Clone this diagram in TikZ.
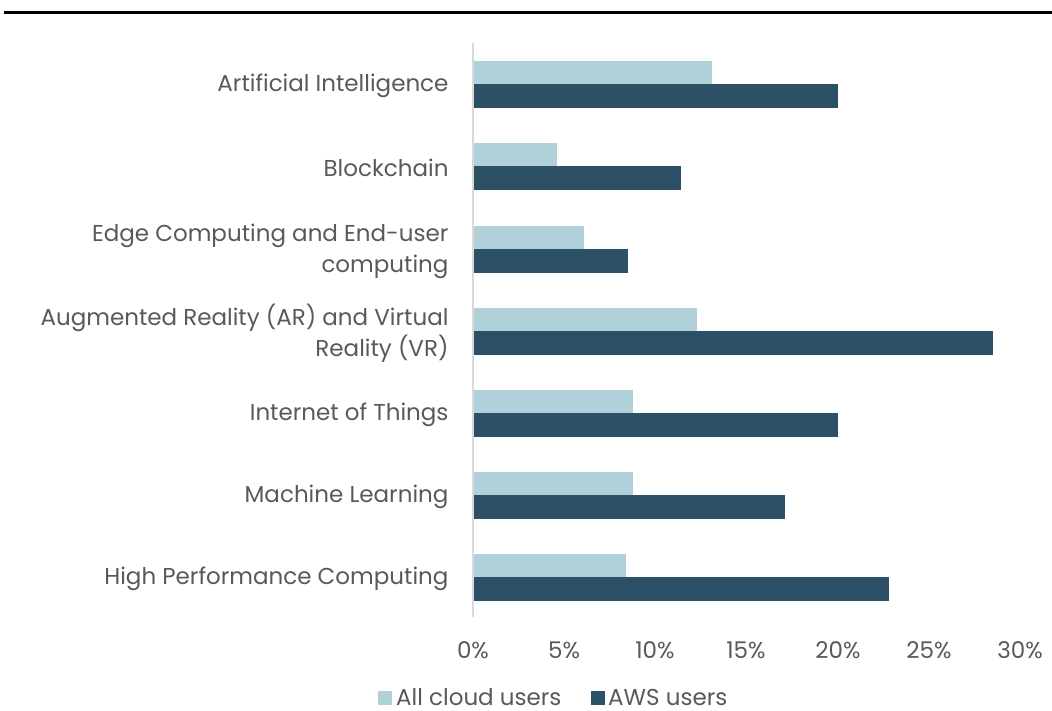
\documentclass[tikz,border=0pt]{standalone}
\usepackage{fontspec}
\setmainfont{Poppins}
\usetikzlibrary{positioning}

\definecolor{cloudblue}{HTML}{B0D0DA}
\definecolor{awsblue}{HTML}{2C5066}
\definecolor{textgray}{HTML}{595959}
\definecolor{axisgray}{HTML}{D9D9D9}

\begin{document}
\begin{tikzpicture}[x=1pt, y=-1pt,
    font=\fontsize{23}{31}\selectfont, text=textgray,
    cat/.style={anchor=east, align=right},
    tick/.style={anchor=center},
    cloudbar/.style={fill=cloudblue},
    awsbar/.style={fill=awsblue},
    key/.style={minimum size=14pt, inner sep=0pt}]
  \useasboundingbox (0,0) rectangle (1052,711);
  \draw[line width=2.5pt] (4,12.5) -- (1052,12.5);

  % axis
  \coordinate (top) at (473,43);
  \coordinate (bot) at (473,617);
  \draw[axisgray, line width=1.5pt] (top) -- (bot);

  % bars, 18.23 per percent from x=473
  \fill[cloudbar] (474,61)  rectangle ({473+18.23*13.1},84);
  \fill[awsbar]   (474,84)  rectangle ({473+18.23*20.0},108);
  \fill[cloudbar] (474,143) rectangle ({473+18.23*4.6},166);
  \fill[awsbar]   (474,166) rectangle ({473+18.23*11.4},190);
  \fill[cloudbar] (474,226) rectangle ({473+18.23*6.1},249);
  \fill[awsbar]   (474,249) rectangle ({473+18.23*8.5},273);
  \fill[cloudbar] (474,308) rectangle ({473+18.23*12.3},331);
  \fill[awsbar]   (474,331) rectangle ({473+18.23*28.5},355);
  \fill[cloudbar] (474,390) rectangle ({473+18.23*8.8},413);
  \fill[awsbar]   (474,413) rectangle ({473+18.23*20.0},437);
  \fill[cloudbar] (474,472) rectangle ({473+18.23*8.8},495);
  \fill[awsbar]   (474,495) rectangle ({473+18.23*17.1},519);
  \fill[cloudbar] (474,554) rectangle ({473+18.23*8.4},577);
  \fill[awsbar]   (474,577) rectangle ({473+18.23*22.8},601);

  % category labels
  \node[cat] (ai)   at (452,86)  {Artificial Intelligence};
  \node[cat] (bc)   at (452,168) {Blockchain};
  \node[cat] (edge) at (452,251) {Edge Computing and End-user\\computing};
  \node[cat] (arvr) at (452,333) {Augmented Reality (AR) and Virtual\\Reality (VR)};
  \node[cat] (iot)  at (452,415) {Internet of Things};
  \node[cat] (ml)   at (452,497) {Machine Learning};
  \node[cat] (hpc)  at (452,579) {High Performance Computing};

  % tick labels
  \node[tick] (t0)  at (473,650)  {0\%};
  \node[tick] (t5)  at (564,650)  {5\%};
  \node[tick] (t10) at (655,650)  {10\%};
  \node[tick] (t15) at (746,650)  {15\%};
  \node[tick] (t20) at (838,650)  {20\%};
  \node[tick] (t25) at (929,650)  {25\%};
  \node[tick] (t30) at (1020,650) {30\%};

  % legend
  \node[key, fill=cloudblue] (kcloud) at (384.5,698) {};
  \node[anchor=base west, inner sep=0pt] (lcloud) at (396,705) {All cloud users};
  \node[key, fill=awsblue] (kaws) at (597.5,698) {};
  \node[anchor=base west, inner sep=0pt] (laws) at (608,705) {AWS users};
\end{tikzpicture}
\end{document}
